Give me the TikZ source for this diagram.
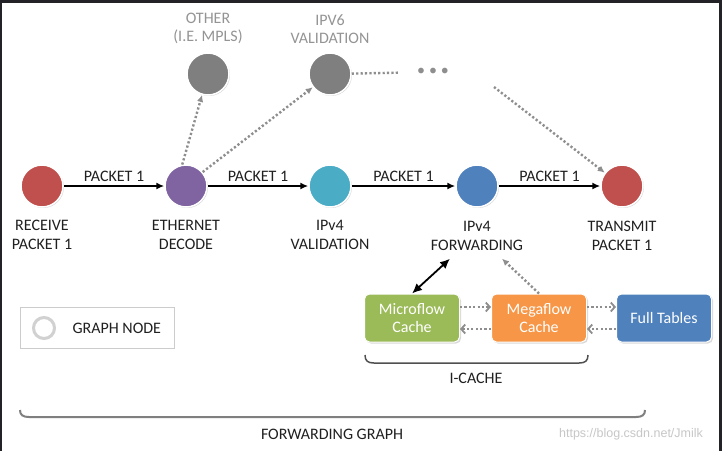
\documentclass[tikz,border=0pt]{standalone}
\usepackage{fontspec}
\setmainfont{Carlito}
\newfontfamily\markfont{Liberation Sans}
\usepackage{xcolor}
\usepackage{tikz}
\usetikzlibrary{shapes.geometric, arrows.meta, positioning, shadows}

\definecolor{nodered}{HTML}{C0504D}
\definecolor{nodepurple}{HTML}{8064A2}
\definecolor{nodeteal}{HTML}{4BACC6}
\definecolor{nodeblue}{HTML}{4F81BD}
\definecolor{nodegray}{HTML}{7F7F7F}
\definecolor{cachegreen}{HTML}{9BBB59}
\definecolor{cacheorange}{HTML}{F79646}
\definecolor{txtdark}{HTML}{202020}
\definecolor{txtgray}{HTML}{949494}
\definecolor{dotgray}{HTML}{8E8E8E}
\definecolor{bracketgray}{HTML}{505050}
\definecolor{framedark}{HTML}{232327}

\begin{document}
\begin{tikzpicture}[x=1pt, y=-1pt,
    font=\fontsize{16}{18.5}\selectfont,
    gnode/.style={circle, draw=white, line width=1.5pt, minimum size=42pt, inner sep=0pt,
        drop shadow={opacity=0.3, shadow xshift=1pt, shadow yshift=-1pt}},
    lbl/.style={align=center, text=txtdark},
    ghost/.style={align=center, text=txtgray},
    arrow/.style={-{Latex[length=8pt,width=7pt]}, line width=1.7pt},
    dotarrow/.style={draw=dotgray, line width=2.4pt, dash pattern=on 2.2pt off 2.2pt, -{Latex[length=7pt,width=6.5pt]}},
    dotline/.style={draw=dotgray, line width=2.4pt, dash pattern=on 2.2pt off 2.2pt},
    cache/.style={rectangle, rounded corners=5pt, draw=white, line width=1pt, minimum width=95pt, minimum height=48pt,
        align=center, text=white, drop shadow={opacity=0.3, shadow xshift=1.5pt, shadow yshift=-1.5pt}},
    link/.style={draw=dotgray, line width=2.4pt, dash pattern=on 2.2pt off 2.2pt, -{Straight Barb[length=4pt,width=9pt,line width=1.8pt]}},
    bracket/.style={draw=bracketgray, line width=1.5pt}
]
\useasboundingbox (0,0) rectangle (722,451);
\fill[framedark] (0,0) rectangle (722,451);
\fill[white] (2,3) rectangle (719,451);

% Graph nodes
\node[gnode, fill=nodered] (rcv) at (42,186) {};
\node[gnode, fill=nodepurple] (eth) at (186,186) {};
\node[gnode, fill=nodeteal] (ip4val) at (330,186) {};
\node[gnode, fill=nodeblue] (ip4fwd) at (477,186) {};
\node[gnode, fill=nodered] (tx) at (622,186) {};
\node[gnode, fill=nodegray] (other) at (208,74) {};
\node[gnode, fill=nodegray] (ip6val) at (330,74) {};

% Labels
\node[lbl, below=9pt of rcv] (rcvlbl) {RECEIVE\\PACKET 1};
\node[lbl, below=9pt of eth] (ethlbl) {ETHERNET\\DECODE};
\node[lbl, below=9pt of ip4val] (ip4vallbl) {IPv4\\VALIDATION};
\node[lbl, below=10pt of ip4fwd] (ip4fwdlbl) {IPv4\\FORWARDING};
\node[lbl, below=10pt of tx] (txlbl) {TRANSMIT\\PACKET 1};
\node[ghost, above=5pt of other] (otherlbl) {OTHER\\(I.E. MPLS)};
\node[ghost, above=5pt of ip6val] (ip6vallbl) {IPV6\\VALIDATION};
\node[text=dotgray] (more) at (433,72) {\textbullet\hspace{4pt}\textbullet\hspace{4pt}\textbullet};
\coordinate (trail) at (494,87);

% Packet path
\draw[arrow] (rcv) -- node[lbl, above] {PACKET 1} (eth);
\draw[arrow] (eth) -- node[lbl, above] {PACKET 1} (ip4val);
\draw[arrow] (ip4val) -- node[lbl, above] {PACKET 1} (ip4fwd);
\draw[arrow] (ip4fwd) -- node[lbl, above] {PACKET 1} (tx);

% Other paths
\draw[dotarrow] (eth.100) -- (other);
\draw[dotarrow] (eth.40) -- (ip6val);
\draw[dotline, shorten >=14pt] (ip6val) -- (more);
\draw[dotarrow] (trail) -- (tx);

% Caches
\node[cache, fill=cachegreen] (micro) at (412,318) {Microflow\\Cache};
\node[cache, fill=cacheorange] (mega) at (539,318) {Megaflow\\Cache};
\node[cache, fill=nodeblue] (full) at (664,318) {Full Tables};

\draw[{Latex[length=10pt,width=9pt]}-{Latex[length=10pt,width=9pt]}, line width=1.8pt] (micro.north) -- ([xshift=-27pt,yshift=-5pt]ip4fwdlbl.south);
\draw[dotarrow] (mega.north) -- ([xshift=25pt,yshift=-5pt]ip4fwdlbl.south);
\draw[link] ([yshift=11pt]micro.east) -- ([yshift=11pt]mega.west);
\draw[link] ([yshift=-11pt]mega.west) -- ([yshift=-11pt]micro.east);
\draw[link] ([yshift=11pt]mega.east) -- ([yshift=11pt]full.west);
\draw[link] ([yshift=-11pt]full.west) -- ([yshift=-11pt]mega.east);

% Brackets
\draw[bracket] (365,355) .. controls (365,361) and (368,363) .. (374,363) -- (579,363) .. controls (585,363) and (588,361) .. (588,355);
\node[lbl] (icache) at (476,378) {I-CACHE};
\draw[bracket, draw=nodegray, line width=2pt] (20,410) .. controls (20,415) and (23,417) .. (29,417) -- (636,417) .. controls (642,417) and (645,415) .. (645,410);
\node[lbl] (fwdgraph) at (332,434) {FORWARDING GRAPH};

% Legend
\node[draw=black!20, line width=1pt, minimum width=154pt, minimum height=41pt] (legend) at (97,328) {};
\node[circle, fill=white, draw=black!18, line width=3pt, minimum size=21pt, inner sep=0pt,
    drop shadow={opacity=0.2, shadow xshift=1pt, shadow yshift=-1pt}] (ring) at (44,328) {};
\node[lbl, anchor=west] (legtxt) at (69,328) {GRAPH NODE};

\node[text=black!22, font=\markfont\fontsize{12.5}{14}\selectfont] (mark) at (631,434) {https://blog.csdn.net/Jmilk};
\end{tikzpicture}
\end{document}
